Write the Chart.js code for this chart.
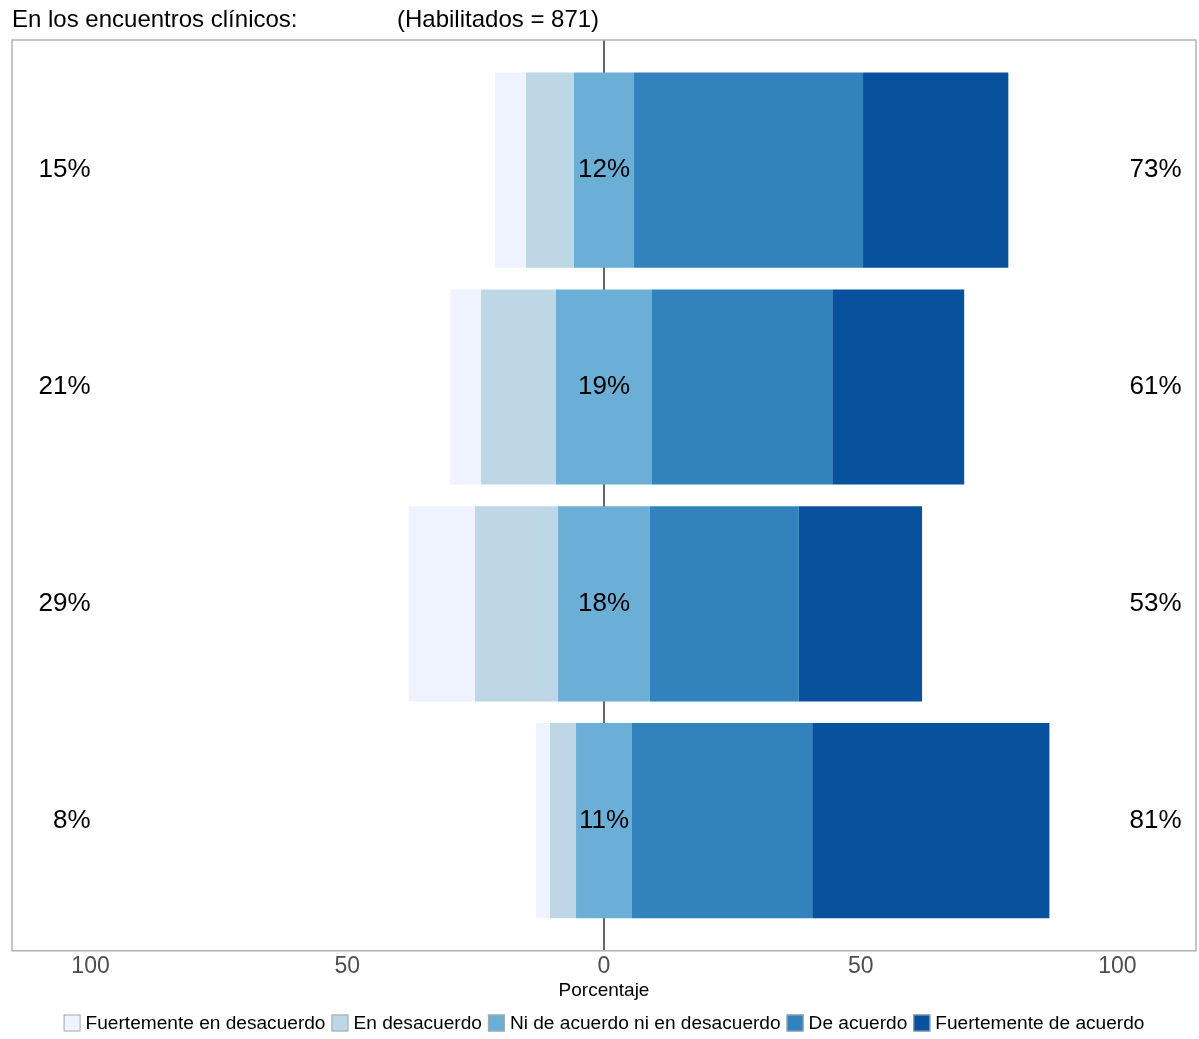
<!DOCTYPE html>
<html>
<head>
<meta charset="utf-8">
<script src="https://cdn.jsdelivr.net/npm/chart.js@4.4.0/dist/chart.umd.min.js"></script>
<style>
  html, body { margin: 0; padding: 0; background: #fff; }
</style>
</head>
<body>
<canvas id="likertChart" width="1199" height="1039"></canvas>
<script>

const fuente = "'Liberation Sans', Arial, sans-serif";

// filas (de arriba a abajo)
const filas = [1, 2, 3, 4];

const categorias = [
    "Fuertemente en desacuerdo",
    "En desacuerdo",
    "Ni de acuerdo ni en desacuerdo",
    "De acuerdo",
    "Fuertemente de acuerdo"
];
const colores = ["#EFF3FF", "#BDD7E7", "#6BAED6", "#3182BD", "#08519C"];

// porcentajes por respuesta
const fuertementeDesacuerdo = [6.0, 6.0, 12.9, 2.7];
const enDesacuerdo = [9.4, 14.6, 16.2, 5.1];
const neutral = [11.7, 18.7, 17.9, 10.9];
const deAcuerdo = [44.6, 35.1, 29.0, 35.1];
const fuertementeAcuerdo = [28.3, 25.7, 24.0, 46.2];

const etiquetasIzq = ["15%", "21%", "29%", "8%"];
const etiquetasCentro = ["12%", "19%", "18%", "11%"];
const etiquetasDer = ["73%", "61%", "53%", "81%"];

const ticksX = [-100, -50, 0, 50, 100];


function segmentos(i) {
    const mitad = neutral[i] / 2;
    const b = -(mitad + enDesacuerdo[i]);
    const a = b - fuertementeDesacuerdo[i];
    const d = mitad + deAcuerdo[i];
    const e = d + fuertementeAcuerdo[i];
    return [[a, b], [b, -mitad], [-mitad, mitad], [mitad, d], [d, e]];
}

const datasets = categorias.map((cat, k) => ({
    label: cat,
    data: filas.map((fila, i) => ({ y: fila, x: segmentos(i)[k] })),
    backgroundColor: colores[k],
    borderWidth: 0,
    barPercentage: 0.9,
    categoryPercentage: 1,
    grouped: false
}));


const extras = {
    id: "extras",
    beforeDatasetsDraw(chart) {
        const { ctx, chartArea, scales } = chart;
        const x0 = scales.x.getPixelForValue(0);
        ctx.save();
        ctx.strokeStyle = "#666666";
        ctx.lineWidth = 2;
        ctx.beginPath();
        ctx.moveTo(x0, chartArea.top);
        ctx.lineTo(x0, chartArea.bottom);
        ctx.stroke();
        ctx.restore();
    },
    afterDatasetsDraw(chart) {
        const { ctx, chartArea, scales } = chart;
        ctx.save();

        // borde del panel
        ctx.strokeStyle = "#b3b3b3";
        ctx.lineWidth = 1.5;
        ctx.strokeRect(chartArea.left, chartArea.top, chartArea.right - chartArea.left, chartArea.bottom - chartArea.top);

        // porcentajes
        ctx.fillStyle = "#000";
        ctx.font = "26px " + fuente;
        ctx.textBaseline = "middle";
        filas.forEach((fila, i) => {
            const y = scales.y.getPixelForValue(fila);
            ctx.textAlign = "right";
            ctx.fillText(etiquetasIzq[i], scales.x.getPixelForValue(-100), y);
            ctx.textAlign = "center";
            ctx.fillText(etiquetasCentro[i], scales.x.getPixelForValue(0), y);
            ctx.textAlign = "right";
            ctx.fillText(etiquetasDer[i], scales.x.getPixelForValue(112.5), y);
        });

        // titulo
        ctx.font = "24px " + fuente;
        ctx.textAlign = "left";
        ctx.fillText("En los encuentros clínicos:", 12, 20);
        ctx.fillText("(Habilitados = 871)", 397, 20);

        // leyenda
        ctx.font = "19.1px " + fuente;
        const caja = 17;
        const anchos = categorias.map(c => ctx.measureText(c).width);
        const total = anchos.reduce((s, w) => s + caja + 5 + w, 0) + 6 * (categorias.length - 1);
        let x = (chartArea.left + chartArea.right) / 2 - total / 2;
        const yl = 1023;
        categorias.forEach((c, k) => {
            ctx.fillStyle = colores[k];
            ctx.fillRect(x, yl - caja / 2, caja, caja);
            ctx.strokeStyle = "#aaaaaa";
            ctx.lineWidth = 1;
            ctx.strokeRect(x + 0.5, yl - caja / 2 + 0.5, caja - 1, caja - 1);
            ctx.fillStyle = "#000";
            ctx.textAlign = "left";
            ctx.fillText(c, x + caja + 5, yl + 1);
            x += caja + 5 + anchos[k] + 6;
        });

        ctx.restore();
    }
};


const likertChart = new Chart(document.getElementById("likertChart"), {
    type: "bar",
    data: { datasets: datasets },
    options: {
        responsive: false,
        animation: false,
        indexAxis: "y",
        layout: {
            padding: { top: 40, left: 12, right: 3, bottom: 39.5 }
        },
        plugins: {
            legend: { display: false },
            tooltip: { enabled: false }
        },
        scales: {
            x: {
                type: "linear",
                position: "bottom",
                min: -115.3,
                max: 115.3,
                offset: false,
                grid: { display: false, drawTicks: false },
                border: { display: false },
                afterBuildTicks: scale => {
                    scale.ticks = ticksX.map(v => ({ value: v }));
                },
                ticks: {
                    callback: v => Math.abs(v),
                    font: { family: fuente, size: 23 },
                    color: "#4d4d4d",
                    padding: 2,
                    maxRotation: 0,
                    autoSkip: false
                },
                title: {
                    display: true,
                    text: "Porcentaje",
                    color: "#000",
                    font: { family: fuente, size: 19, lineHeight: 0.9 },
                    padding: { top: 0, bottom: 0 }
                }
            },
            y: {
                type: "linear",
                display: false,
                reverse: true,
                offset: false,
                min: 0.4,
                max: 4.6,
                afterBuildTicks: scale => {
                    scale.ticks = filas.map(v => ({ value: v }));
                }
            }
        }
    },
    plugins: [extras]
});

</script>
</body>
</html>
